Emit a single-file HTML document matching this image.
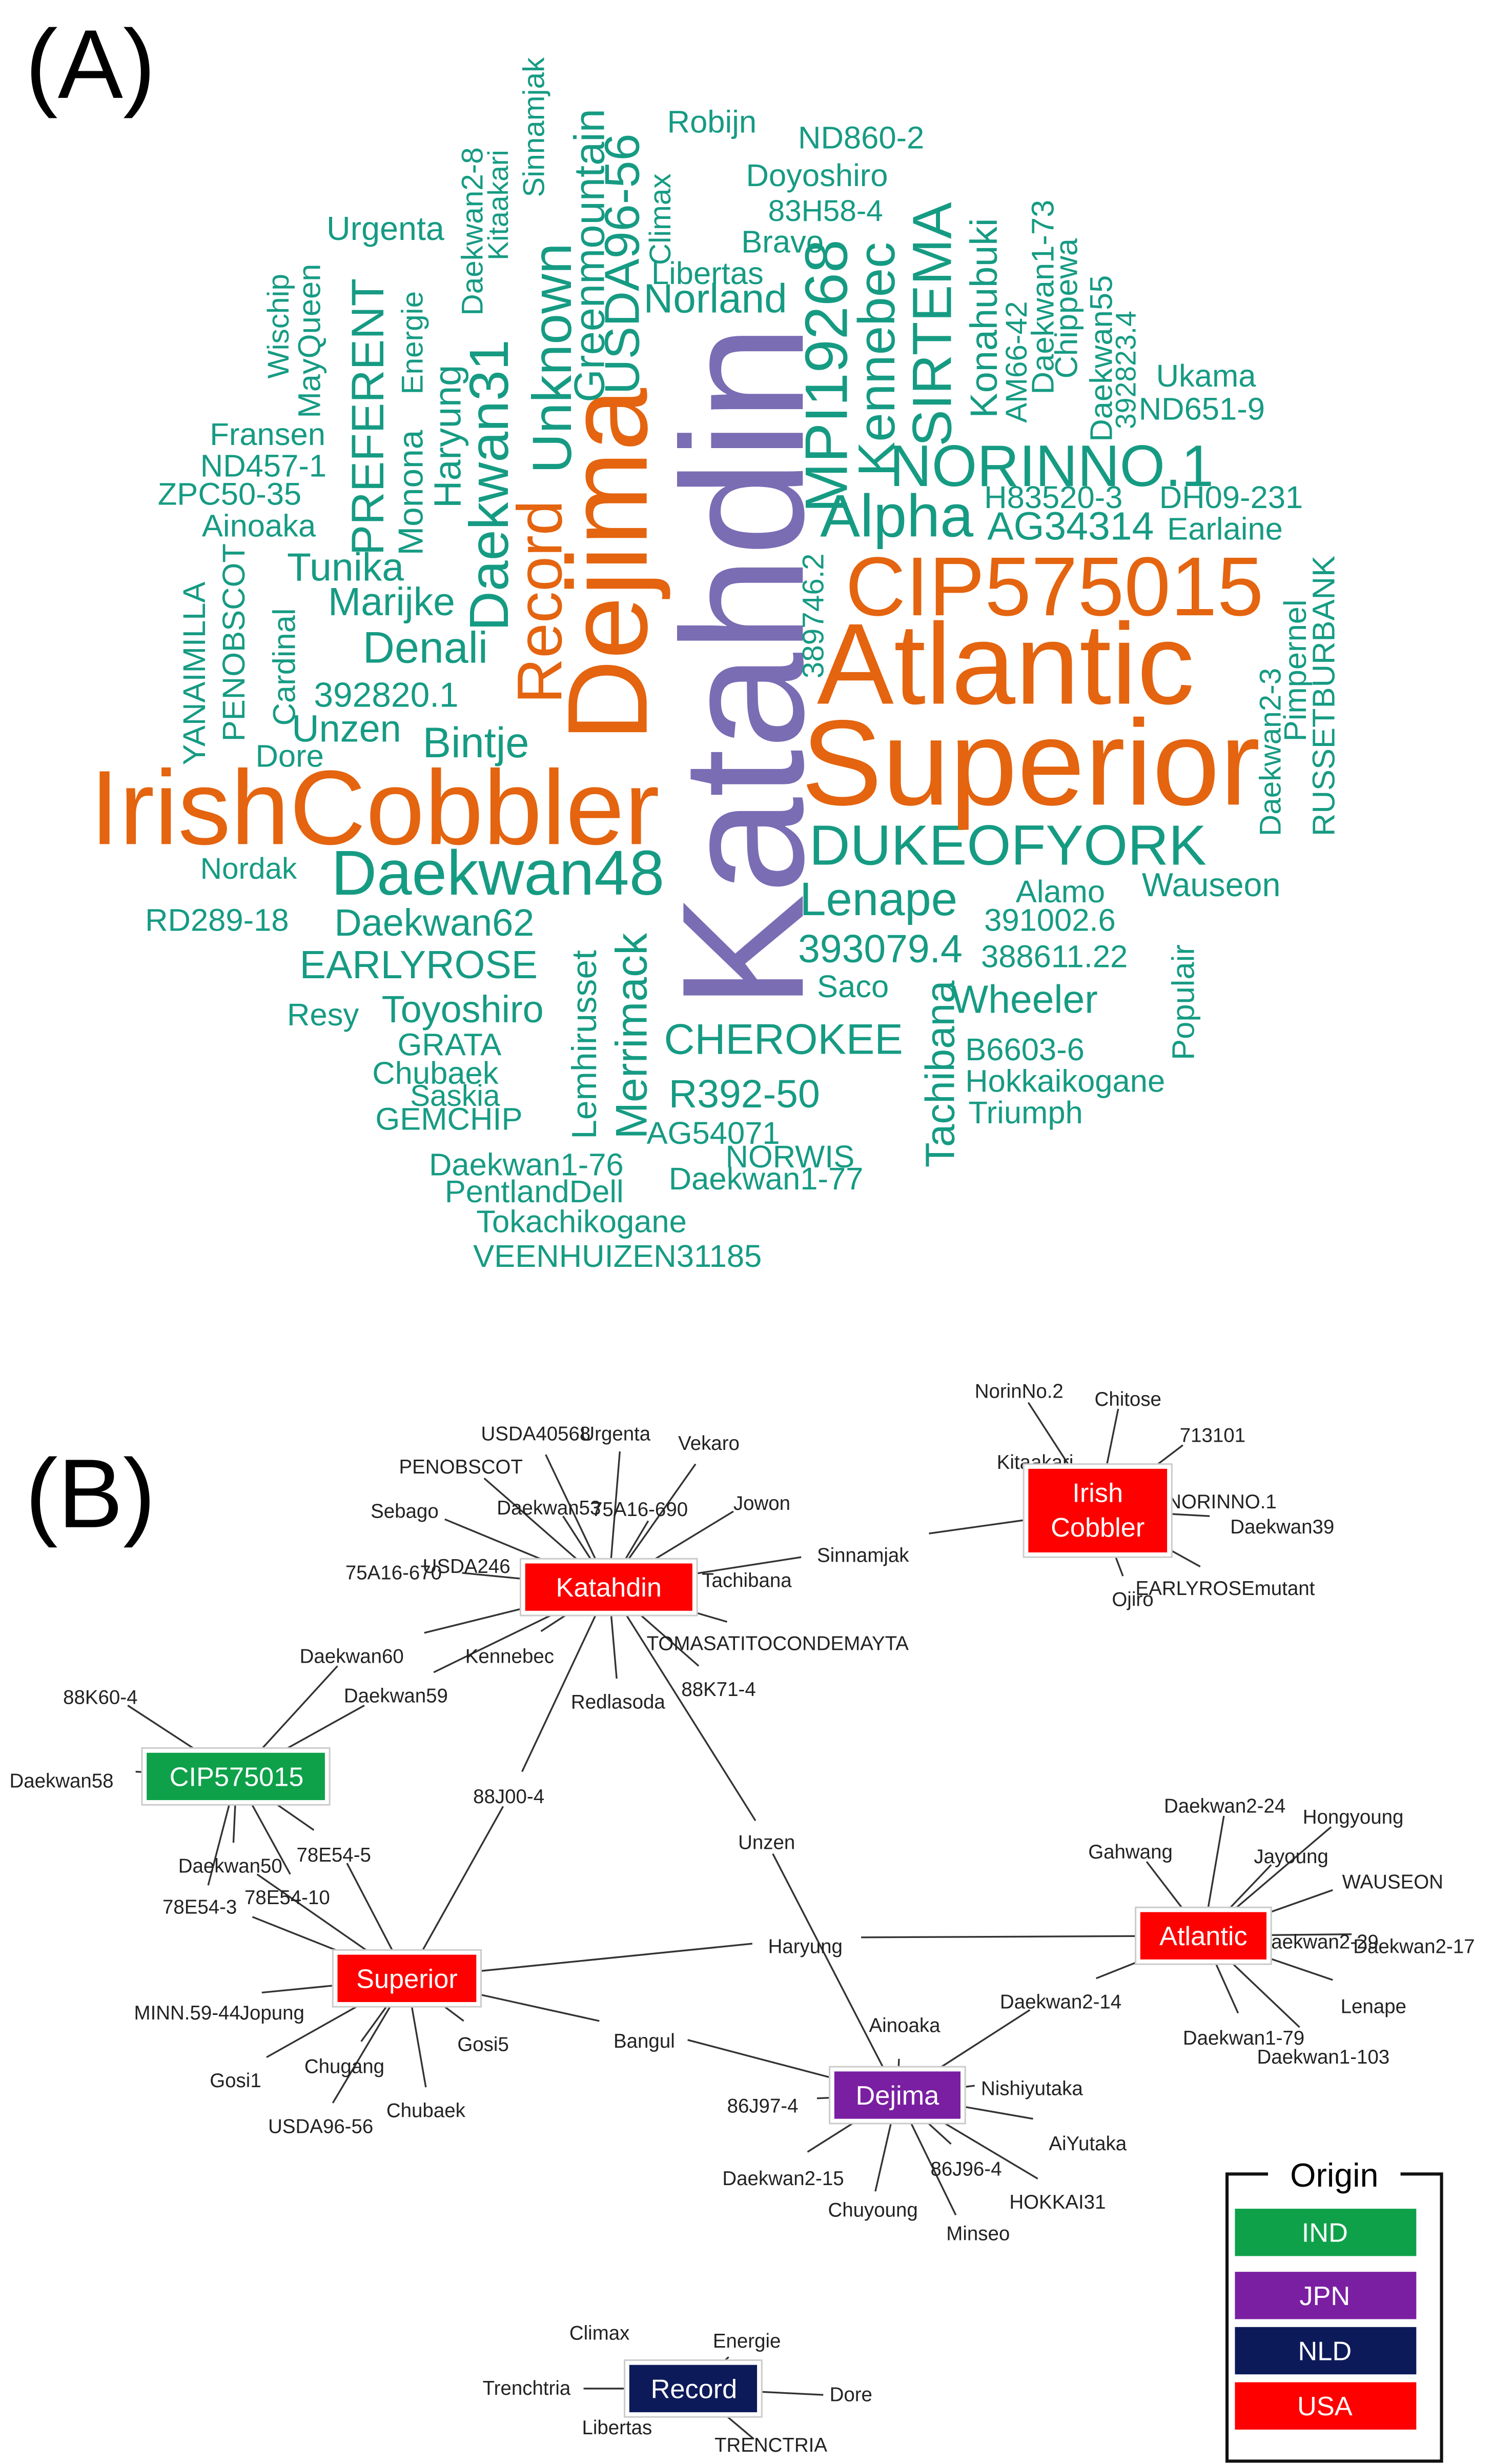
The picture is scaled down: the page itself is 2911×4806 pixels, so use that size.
<!DOCTYPE html>
<html><head><meta charset="utf-8"><style>
html,body{margin:0;padding:0;background:#fff}
svg{display:block}
.t{fill:#169b83;font-family:"Liberation Sans",Arial,sans-serif}
.o{fill:#e4640f;font-family:"Liberation Sans",Arial,sans-serif}
.p{fill:#7a6db4;font-family:"Liberation Sans",Arial,sans-serif}
.l{font-family:"Liberation Sans",Arial,sans-serif;font-size:12.5px;fill:#222}
.e{stroke:#333;stroke-width:1.1;fill:none}
.n{font-family:"Liberation Sans",Arial,sans-serif;font-size:17px;fill:#fff;text-anchor:middle}
</style></head><body>
<svg width="2911" height="4806" viewBox="0 0 946 1561.8" xmlns="http://www.w3.org/2000/svg">
<rect width="946" height="1562" fill="#fff"/>
<text x="16" y="62" style="font-family:'Liberation Sans',sans-serif;font-size:62px">(A)</text>
<text x="16" y="968" style="font-family:'Liberation Sans',sans-serif;font-size:62px">(B)</text>

<!-- word cloud horizontal -->
<g class="t">
<text x="423" y="84" font-size="20">Robijn</text>
<text x="506" y="94" font-size="20">ND860-2</text>
<text x="473" y="118" font-size="20">Doyoshiro</text>
<text x="487" y="140" font-size="19">83H58-4</text>
<text x="470" y="160" font-size="20">Bravo</text>
<text x="413" y="180" font-size="20">Libertas</text>
<text x="408" y="198" font-size="26">Norland</text>
<text x="207" y="152" font-size="21">Urgenta</text>
<text x="133" y="282" font-size="20">Fransen</text>
<text x="127" y="302" font-size="20">ND457-1</text>
<text x="100" y="320" font-size="20">ZPC50-35</text>
<text x="128" y="340" font-size="20">Ainoaka</text>
<text x="182" y="368" font-size="25">Tunika</text>
<text x="208" y="390" font-size="25">Marijke</text>
<text x="230" y="420" font-size="28">Denali</text>
<text x="199" y="448" font-size="22">392820.1</text>
<text x="185" y="470" font-size="24">Unzen</text>
<text x="162" y="486" font-size="20">Dore</text>
<text x="268" y="480" font-size="27">Bintje</text>
<text x="127" y="557" font-size="19">Nordak</text>
<text x="210" y="567" font-size="40">Daekwan48</text>
<text x="92" y="590" font-size="20">RD289-18</text>
<text x="212" y="593" font-size="24">Daekwan62</text>
<text x="190" y="620" font-size="25">EARLYROSE</text>
<text x="182" y="650" font-size="20">Resy</text>
<text x="242" y="648" font-size="24">Toyoshiro</text>
<text x="252" y="669" font-size="20">GRATA</text>
<text x="236" y="687" font-size="20">Chubaek</text>
<text x="260" y="701" font-size="19">Saskia</text>
<text x="238" y="716" font-size="20">GEMCHIP</text>
<text x="272" y="745" font-size="20">Daekwan1-76</text>
<text x="282" y="762" font-size="20">PentlandDell</text>
<text x="302" y="781" font-size="20">Tokachikogane</text>
<text x="300" y="803" font-size="20">VEENHUIZEN31185</text>
<text x="424" y="754" font-size="20">Daekwan1-77</text>
<text x="460" y="740" font-size="20">NORWIS</text>
<text x="410" y="725" font-size="20">AG54071</text>
<text x="424" y="702" font-size="25">R392-50</text>
<text x="421" y="668" font-size="27">CHEROKEE</text>
<text x="518" y="632" font-size="20">Saco</text>
<text x="506" y="610" font-size="25">393079.4</text>
<text x="622" y="613" font-size="20">388611.22</text>
<text x="624" y="590" font-size="20">391002.6</text>
<text x="644" y="572" font-size="20">Alamo</text>
<text x="507" y="580" font-size="30">Lenape</text>
<text x="724" y="568" font-size="21">Wauseon</text>
<text x="513" y="548" font-size="36">DUKEOFYORK</text>
<text x="520" y="340" font-size="38">Alpha</text>
<text x="626" y="342" font-size="25">AG34314</text>
<text x="624" y="322" font-size="20">H83520-3</text>
<text x="735" y="322" font-size="20">DH09-231</text>
<text x="740" y="342" font-size="20">Earlaine</text>
<text x="564" y="308" font-size="37">NORINNO.1</text>
<text x="733" y="245" font-size="20">Ukama</text>
<text x="722" y="266" font-size="20">ND651-9</text>
<text x="603" y="642" font-size="25">Wheeler</text>
<text x="612" y="672" font-size="20">B6603-6</text>
<text x="612" y="692" font-size="20">Hokkaikogane</text>
<text x="614" y="712" font-size="20">Triumph</text>
</g>
<g class="o">
<text x="57" y="535" font-size="67">IrishCobbler</text>
<text x="508" y="510" font-size="77">Superior</text>
<text x="518" y="446" font-size="73">Atlantic</text>
<text x="536" y="390" font-size="53">CIP575015</text>
<text transform="translate(410,470) rotate(-90)" font-size="72">Dejima</text>
<text transform="translate(356,446) rotate(-90)" font-size="40">Record</text>
</g>
<text class="p" transform="translate(509,640) rotate(-90)" font-size="110">Katahdin</text>
<!-- vertical teal -->
<g class="t">
<text transform="translate(322,400) rotate(-90)" font-size="35">Daekwan31</text>
<text transform="translate(362,300) rotate(-90)" font-size="35">Unknown</text>
<text transform="translate(383,255) rotate(-90)" font-size="27">Greenmountain</text>
<text transform="translate(405,250) rotate(-90)" font-size="31">USDA96-56</text>
<text transform="translate(425,168) rotate(-90)" font-size="19">Climax</text>
<text transform="translate(345,125) rotate(-90)" font-size="19">Sinnamjak</text>
<text transform="translate(306,200) rotate(-90)" font-size="19">Daekwan2-8</text>
<text transform="translate(322,165) rotate(-90)" font-size="18">Kitaakari</text>
<text transform="translate(183,240) rotate(-90)" font-size="19">Wischip</text>
<text transform="translate(203,265) rotate(-90)" font-size="20">MayQueen</text>
<text transform="translate(243,352) rotate(-90)" font-size="29">PREFERENT</text>
<text transform="translate(268,352) rotate(-90)" font-size="22">Monona</text>
<text transform="translate(268,250) rotate(-90)" font-size="19">Energie</text>
<text transform="translate(292,322) rotate(-90)" font-size="24">Haryung</text>
<text transform="translate(130,485) rotate(-90)" font-size="20">YANAIMILLA</text>
<text transform="translate(155,470) rotate(-90)" font-size="20">PENOBSCOT</text>
<text transform="translate(187,460) rotate(-90)" font-size="20">Cardinal</text>
<text transform="translate(378,722) rotate(-90)" font-size="22">Lemhirusset</text>
<text transform="translate(410,722) rotate(-90)" font-size="28">Merrimack</text>
<text transform="translate(537,325) rotate(-90)" font-size="38">MPI19268</text>
<text transform="translate(522,430) rotate(-90)" font-size="19">389746.2</text>
<text transform="translate(567,302) rotate(-90)" font-size="33">Kennebec</text>
<text transform="translate(603,283) rotate(-90)" font-size="35">SIRTEMA</text>
<text transform="translate(632,265) rotate(-90)" font-size="24">Konahubuki</text>
<text transform="translate(651,268) rotate(-90)" font-size="19">AM66-42</text>
<text transform="translate(668,250) rotate(-90)" font-size="20">Daekwan1-73</text>
<text transform="translate(683,240) rotate(-90)" font-size="20">Chippewa</text>
<text transform="translate(705,280) rotate(-90)" font-size="20">Daekwan55</text>
<text transform="translate(720,272) rotate(-90)" font-size="18">392823.4</text>
<text transform="translate(812,530) rotate(-90)" font-size="19">Daekwan2-3</text>
<text transform="translate(828,470) rotate(-90)" font-size="20">Pimpernel</text>
<text transform="translate(846,530) rotate(-90)" font-size="20">RUSSETBURBANK</text>
<text transform="translate(605,740) rotate(-90)" font-size="26">Tachibana</text>
<text transform="translate(757,672) rotate(-90)" font-size="20">Populair</text>
</g>

<!-- network edges -->
<g class="e">
<path d="M386,1006L346,922M386,1006L393,920M386,1006L441,928M386,1006L307,937M386,1006L282,963M386,1006L357,961M386,1006L411,964M386,1006L465,958M386,1006L293,997"/>
<path d="M386,1006L508,987M589,972L696,957"/>
<path d="M386,1006L461,1028M386,1006L391,1064M386,1006L443,1056M386,1006L343,1034"/>
<path d="M386,1006L269,1035M214,1056L150,1126M386,1006L275,1060M231,1081L150,1126"/>
<path d="M386,1006L331,1123M319,1145L258,1254"/>
<path d="M386,1006L479,1154M490,1175L569,1328"/>
<path d="M696,957L652,889M696,957L709,893M696,957L750,916M696,957L767,961M696,957L761,993M696,957L712,999"/>
<path d="M150,1126L81,1081M150,1126L86,1123M150,1126L148,1168M150,1126L199,1160M150,1126L132,1195M150,1126L184,1188M163,1188L258,1254M160,1215L258,1254M220,1181L258,1254"/>
<path d="M258,1254L166,1263M258,1254L169,1304M258,1254L229,1294M258,1254L211,1333M258,1254L270,1323M258,1254L294,1281"/>
<path d="M258,1254L380,1281M436,1293L569,1328M258,1254L477,1232M546,1228L763,1227"/>
<path d="M763,1227L776,1151M763,1227L727,1180M763,1227L806,1182M763,1227L844,1158M763,1227L845,1198M763,1227L857,1226M763,1227L845,1255M763,1227L824,1285M763,1227L785,1276M763,1227L695,1254M653,1274L569,1328"/>
<path d="M569,1328L570,1305M569,1328L655,1343M569,1328L512,1364M569,1328L555,1389M569,1328L603,1359M569,1328L658,1381M569,1328L606,1404M569,1328L518,1330M569,1328L618,1322"/>
<path d="M440,1514L410,1496M440,1514L462,1494M440,1514L370,1514M440,1514L522,1518M440,1514L405,1532M440,1514L478,1546"/>
</g>

<!-- leaf labels -->
<g class="l">
<text x="305" y="913">USDA40568</text><text x="368" y="913">Urgenta</text><text x="430" y="919">Vekaro</text>
<text x="253" y="934">PENOBSCOT</text><text x="465" y="957">Jowon</text><text x="235" y="962">Sebago</text>
<text x="315" y="960">Daekwan53</text><text x="375" y="961">75A16-690</text><text x="219" y="1001">75A16-670</text>
<text x="268" y="997">USDA246</text><text x="445" y="1006">Tachibana</text><text x="518" y="990">Sinnamjak</text>
<text x="190" y="1054">Daekwan60</text><text x="295" y="1054">Kennebec</text><text x="410" y="1046">TOMASATITOCONDEMAYTA</text>
<text x="218" y="1079">Daekwan59</text><text x="362" y="1083">Redlasoda</text><text x="432" y="1075">88K71-4</text>
<text x="300" y="1143">88J00-4</text><text x="468" y="1172">Unzen</text>
<text x="618" y="886">NorinNo.2</text><text x="694" y="891">Chitose</text><text x="748" y="914">713101</text>
<text x="632" y="931">Kitaakari</text><text x="740" y="956">NORINNO.1</text><text x="780" y="972">Daekwan39</text>
<text x="720" y="1011">EARLYROSEmutant</text><text x="705" y="1018">Ojiro</text>
<text x="40" y="1080">88K60-4</text><text x="6" y="1133">Daekwan58</text><text x="113" y="1187">Daekwan50</text>
<text x="188" y="1180">78E54-5</text><text x="103" y="1213">78E54-3</text><text x="155" y="1207">78E54-10</text>
<text x="85" y="1280">MINN.59-44</text><text x="152" y="1280">Jopung</text><text x="133" y="1323">Gosi1</text>
<text x="193" y="1314">Chugang</text><text x="170" y="1352">USDA96-56</text><text x="245" y="1342">Chubaek</text>
<text x="290" y="1300">Gosi5</text><text x="389" y="1298">Bangul</text><text x="487" y="1238">Haryung</text>
<text x="738" y="1149">Daekwan2-24</text><text x="826" y="1156">Hongyoung</text><text x="690" y="1178">Gahwang</text>
<text x="795" y="1181">Jayoung</text><text x="851" y="1197">WAUSEON</text><text x="797" y="1235">Daekwan2-29</text>
<text x="858" y="1238">Daekwan2-17</text><text x="850" y="1276">Lenape</text><text x="750" y="1296">Daekwan1-79</text>
<text x="797" y="1308">Daekwan1-103</text><text x="634" y="1273">Daekwan2-14</text>
<text x="551" y="1288">Ainoaka</text><text x="622" y="1328">Nishiyutaka</text><text x="665" y="1363">AiYutaka</text>
<text x="461" y="1339">86J97-4</text><text x="458" y="1385">Daekwan2-15</text><text x="590" y="1379">86J96-4</text>
<text x="640" y="1400">HOKKAI31</text><text x="525" y="1405">Chuyoung</text><text x="600" y="1420">Minseo</text>
<text x="361" y="1483">Climax</text><text x="452" y="1488">Energie</text><text x="306" y="1518">Trenchtria</text>
<text x="526" y="1522">Dore</text><text x="369" y="1543">Libertas</text><text x="453" y="1554">TRENCTRIA</text>
</g>

<!-- hub nodes -->
<g>
<rect x="330" y="988" width="112" height="36" fill="#fff" stroke="#ccc" stroke-width="1"/>
<rect x="333" y="991" width="106" height="30" fill="#f00"/>
<text class="n" x="386" y="1012">Katahdin</text>
<rect x="649" y="928" width="94" height="59" fill="#fff" stroke="#ccc" stroke-width="1"/>
<rect x="652" y="931" width="88" height="53" fill="#f00"/>
<text class="n" x="696" y="952">Irish</text><text class="n" x="696" y="974">Cobbler</text>
<rect x="90" y="1108" width="119" height="36" fill="#fff" stroke="#ccc" stroke-width="1"/>
<rect x="93" y="1111" width="113" height="30" fill="#0ea14a"/>
<text class="n" x="150" y="1132">CIP575015</text>
<rect x="211" y="1236" width="94" height="36" fill="#fff" stroke="#ccc" stroke-width="1"/>
<rect x="214" y="1239" width="88" height="30" fill="#f00"/>
<text class="n" x="258" y="1260">Superior</text>
<rect x="720" y="1209" width="86" height="36" fill="#fff" stroke="#ccc" stroke-width="1"/>
<rect x="723" y="1212" width="80" height="30" fill="#f00"/>
<text class="n" x="763" y="1233">Atlantic</text>
<rect x="526" y="1310" width="86" height="36" fill="#fff" stroke="#ccc" stroke-width="1"/>
<rect x="529" y="1313" width="80" height="30" fill="#7a1fa2"/>
<text class="n" x="569" y="1334">Dejima</text>
<rect x="396" y="1496" width="87" height="36" fill="#fff" stroke="#ccc" stroke-width="1"/>
<rect x="399" y="1499" width="81" height="30" fill="#0d1a5a"/>
<text class="n" x="440" y="1520">Record</text>
</g>

<!-- legend -->
<rect x="778" y="1378" width="136" height="182" fill="none" stroke="#111" stroke-width="2"/>
<rect x="804" y="1366" width="84" height="24" fill="#fff"/>
<text x="846" y="1386" text-anchor="middle" style="font-family:'Liberation Sans',sans-serif;font-size:21px">Origin</text>
<rect x="783" y="1400" width="115" height="30" fill="#0ea14a"/><text class="n" x="840" y="1421">IND</text>
<rect x="783" y="1440" width="115" height="30" fill="#7a1fa2"/><text class="n" x="840" y="1461">JPN</text>
<rect x="783" y="1475" width="115" height="30" fill="#0d1a5a"/><text class="n" x="840" y="1496">NLD</text>
<rect x="783" y="1510" width="115" height="30" fill="#f00"/><text class="n" x="840" y="1531">USA</text>
</svg>
</body></html>
